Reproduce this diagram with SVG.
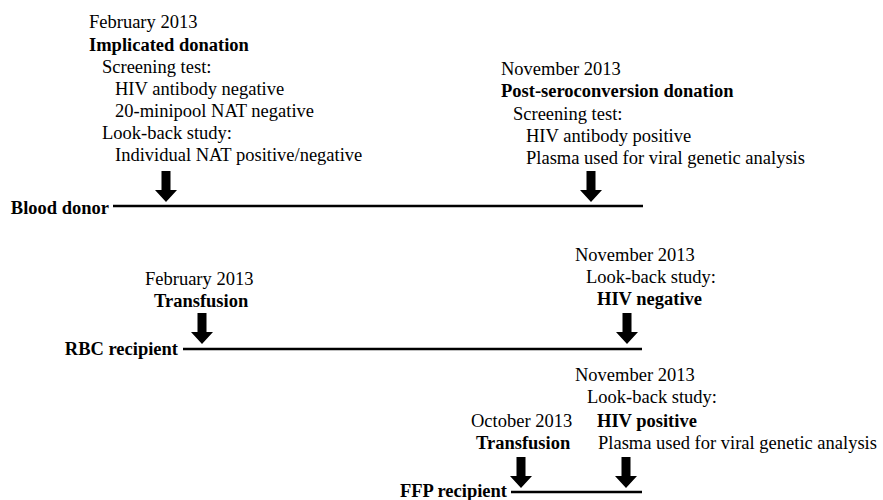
<svg xmlns="http://www.w3.org/2000/svg" width="883" height="500" viewBox="0 0 883 500">
<style>
text{font-size:18.5px;fill:#000}
.b{font-weight:bold}
.e{text-anchor:end}
.tl{stroke:#000;stroke-width:2.5;fill:none}
</style>
<defs>
<path id="arr" d="M-4.5,0 H4.5 V19 H11 L0,31 L-11,19 H-4.5 Z" fill="#000"/>
</defs>
<rect width="883" height="500" fill="#fff"/>
<g font-family="Liberation Serif, DejaVu Serif, serif">
<g id="donor">
<text class="b e" x="109" y="214">Blood donor</text>
</g>
<g id="implicated">
<text x="89" y="28">February 2013</text>
<text class="b" x="89" y="51">Implicated donation</text>
<text x="102" y="73">Screening test:</text>
<text x="115" y="95">HIV antibody negative</text>
<text x="115" y="117">20-minipool NAT negative</text>
<text x="102" y="139">Look-back study:</text>
<text x="115" y="161">Individual NAT positive/negative</text>
</g>
<g id="postsero">
<text x="501" y="75">November 2013</text>
<text class="b" x="501" y="97">Post-seroconversion donation</text>
<text x="513" y="120">Screening test:</text>
<text x="526" y="142">HIV antibody positive</text>
<text x="526" y="164">Plasma used for viral genetic analysis</text>
</g>
<g id="rbc">
<text class="b e" x="178" y="355">RBC recipient</text>
</g>
<g id="rbc-transfusion">
<text x="145" y="285">February 2013</text>
<text class="b" x="154" y="307">Transfusion</text>
</g>
<g id="rbc-lookback">
<text x="575" y="261">November 2013</text>
<text x="586" y="283">Look-back study:</text>
<text class="b" x="597" y="305">HIV negative</text>
</g>
<g id="ffp">
<text class="b e" x="507" y="497">FFP recipient</text>
</g>
<g id="ffp-transfusion">
<text x="471" y="427">October 2013</text>
<text class="b" x="476" y="449">Transfusion</text>
</g>
<g id="ffp-lookback">
<text x="575" y="381">November 2013</text>
<text x="587" y="403">Look-back study:</text>
<text class="b" x="597" y="427">HIV positive</text>
<text x="598" y="449">Plasma used for viral genetic analysis</text>
</g>
</g>
<g id="connectors">
<line class="tl" x1="113" y1="206" x2="643" y2="206"/>
<line class="tl" x1="183" y1="349" x2="642" y2="349"/>
<line class="tl" x1="511" y1="492" x2="642" y2="492"/>
<use href="#arr" x="166" y="171"/>
<use href="#arr" x="591" y="171"/>
<use href="#arr" x="202" y="313"/>
<use href="#arr" x="627" y="313"/>
<use href="#arr" x="521" y="457"/>
<use href="#arr" x="626" y="457"/>
</g>
</svg>
